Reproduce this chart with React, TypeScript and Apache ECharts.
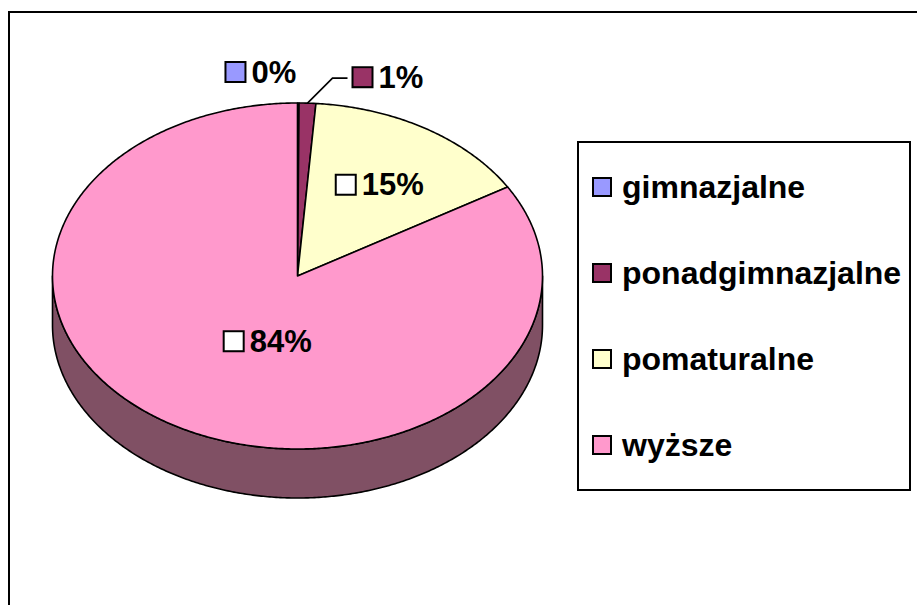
import React, { useEffect, useRef } from "react";
import * as echarts from "echarts";

const categories = ["gimnazjalne", "ponadgimnazjalne", "pomaturalne", "wyższe"];
const values = [0.1, 1.1, 15.2, 83.6];
const colors = ["#9999FF", "#993366", "#FFFFCC", "#FF99CC"];
const sideColors = ["#4D4D80", "#4D1A33", "#808066", "#805064"];
const labelBoxColors = ["#9999FF", "#993366", "#FFFFFF", "#FFFFFF"];

const FONT = "'Liberation Sans', Arial, sans-serif";
const CX = 297.5;
const CY = 276;
const RX = 245;
const RY = 173;
const DEPTH = 49;

const total = values.reduce((a, b) => a + b, 0);
const cum: number[] = [];
values.reduce((acc, v, i) => {
  cum[i] = acc;
  return acc + v;
}, 0);

// label placement: mode, radius factor, nudges
const labelMode = ["outsideRight", "outsideLeader", "inside", "inside"];
const labelRadius = [1, 1, 0.62, 0.4];
const labelNudge = [
  [-2, -31],
  [46, -26],
  [3, 0],
  [19, 5],
];

const pt = (t: number, dz = 0) => [CX + RX * Math.sin(t), CY - RY * Math.cos(t) + dz];
const arc = (a: number, b: number, dz = 0) => {
  const n = Math.max(2, Math.ceil((b - a) / (Math.PI / 360)));
  const pts: number[][] = [];
  for (let k = 0; k <= n; k++) pts.push(pt(a + ((b - a) * k) / n, dz));
  return pts;
};

const renderItem = (params: any, api: any) => {
  const i = params.dataIndex;
  const v = api.value(0);
  const start = (cum[i] / total) * 2 * Math.PI;
  const end = start + (v / total) * 2 * Math.PI;
  const children: any[] = [];
  const a = Math.max(start, Math.PI / 2);
  const b = Math.min(end, (3 * Math.PI) / 2);
  if (b > a) {
    children.push({
      type: "polygon",
      shape: { points: [...arc(a, b), ...arc(a, b, DEPTH).reverse()] },
      style: { fill: sideColors[i], stroke: "#000", lineWidth: 1.6, lineJoin: "round" },
      z2: 0,
    });
  }
  children.push({
    type: "polygon",
    shape: { points: [[CX, CY], ...arc(start, end)] },
    style: { fill: colors[i], stroke: "#000", lineWidth: 1.6, lineJoin: "round" },
    z2: 1,
  });
  const mid = (start + end) / 2;
  const pct = Math.round((v / total) * 100);
  const mode = labelMode[i];
  let x: number;
  let y: number;
  let align = "center";
  if (mode === "inside") {
    const p = [CX + RX * labelRadius[i] * Math.sin(mid), CY - RY * labelRadius[i] * Math.cos(mid)];
    x = p[0] + labelNudge[i][0];
    y = p[1] + labelNudge[i][1];
  } else {
    const p0 = pt(mid);
    x = p0[0] + labelNudge[i][0];
    y = p0[1] + labelNudge[i][1];
    if (mode === "outsideRight") {
      align = "right";
    } else {
      align = "left";
      children.push({
        type: "polyline",
        shape: {
          points: [p0, [p0[0] + 25, p0[1] - 25], [p0[0] + 40, p0[1] - 25]],
        },
        style: { stroke: "#000", lineWidth: 1.6, fill: null },
        z2: 5,
      });
    }
  }
  children.push({
    type: "text",
    x,
    y,
    style: {
      text: `{box|}{gap|}{t|${pct}%}`,
      align,
      verticalAlign: "middle",
      rich: {
        box: {
          width: 18,
          height: 18,
          backgroundColor: labelBoxColors[i],
          borderColor: "#000",
          borderWidth: 2,
        },
        gap: { width: 7 },
        t: { fontSize: 31, fontWeight: "bold", fontFamily: FONT, fill: "#000" },
      },
    },
    z2: 10,
  });
  return { type: "group", children };
};

const LEG_X = 578;
const LEG_Y = 142;
const LEG_W = 332;
const LEG_H = 348;
const LEG_FIRST = 187;
const LEG_STEP = 86;

export default function App() {
  const ref = useRef<HTMLDivElement>(null);
  useEffect(() => {
    document.body.style.margin = "0";
    const chart = echarts.init(ref.current!, undefined, { renderer: "svg" });
    const legendItems = categories.map((c, i) => ({
      type: "group",
      children: [
        {
          type: "rect",
          shape: { x: LEG_X + 15, y: LEG_FIRST + i * LEG_STEP - 9, width: 18, height: 18 },
          style: { fill: colors[i], stroke: "#000", lineWidth: 2 },
        },
        {
          type: "text",
          x: LEG_X + 44,
          y: LEG_FIRST + i * LEG_STEP,
          style: {
            text: c,
            fontSize: 32,
            fontWeight: "bold",
            fontFamily: FONT,
            fill: "#000",
            verticalAlign: "middle",
            align: "left",
          },
        },
      ],
    }));
    chart.setOption({
      animation: false,
      backgroundColor: "#fff",
      graphic: [
        {
          type: "rect",
          shape: { x: 9, y: 12, width: 1200, height: 1000 },
          style: { fill: "none", stroke: "#000", lineWidth: 2 },
          silent: true,
        },
        {
          type: "rect",
          shape: { x: LEG_X, y: LEG_Y, width: LEG_W, height: LEG_H },
          style: { fill: "#fff", stroke: "#000", lineWidth: 2 },
          silent: true,
        },
        ...legendItems,
      ],
      series: [
        {
          type: "custom",
          coordinateSystem: "none",
          renderItem,
          silent: true,
          data: values.map((v, i) => ({ name: categories[i], value: [v] })),
        },
      ],
    });
    return () => chart.dispose();
  }, []);
  return <div ref={ref} style={{ width: 917, height: 605 }} />;
}
